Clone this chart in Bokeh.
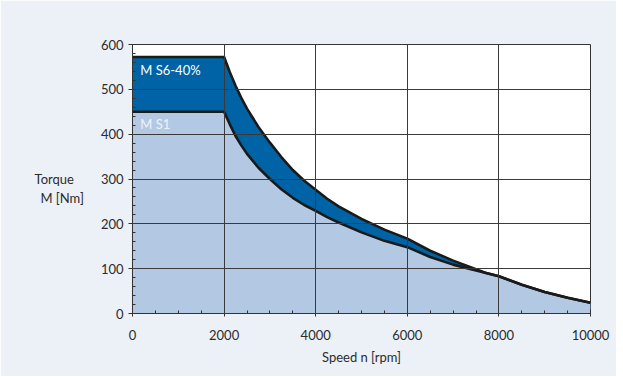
from bokeh.plotting import figure
from bokeh.models import Range1d, SingleIntervalTicker, Label
from bokeh.embed import file_html
from bokeh.resources import INLINE

# Data
speed = [0, 2000, 2125, 2250, 2375, 2500, 2750, 3000, 3250, 3500, 3750, 4000,
         4250, 4500, 5000, 5500, 6000, 6500, 7000, 7500, 7700, 8000, 8500,
         9000, 9500, 10000]
torque_s6 = [572, 572, 538, 508, 481, 457, 416, 381, 349, 320, 296, 276,
             256, 239, 211, 187, 167, 140, 118, 99, 91, 83, 64,
             48, 35, 24]
torque_s1 = [450, 450, 422, 396, 375, 356, 325, 300, 277, 258, 242, 229,
             215, 203, 181, 162, 148, 126, 109, 96, 91, 83, 64,
             48, 35, 24]
label_s6 = "M S6-40%"
label_s1 = "M S1"

FONT = "Lato"
TXT = "#2b2b2b"

p = figure(width=616, height=376, output_backend="svg", toolbar_location=None,
           x_range=Range1d(0, 10000), y_range=Range1d(0, 600),
           min_border_left=132, min_border_right=26, min_border_top=44,
           min_border_bottom=63)
p.border_fill_color = "#ECF1F8"
p.background_fill_color = "white"
p.outline_line_color = "#333333"
p.outline_line_width = 1

p.varea(x=speed, y1=0, y2=torque_s6, fill_color="#0063A6")
p.varea(x=speed, y1=0, y2=torque_s1, fill_color="#B3C8E2")
p.line(speed, torque_s6, line_color="#1a1a1a", line_width=2.6, line_join="round")
p.line(speed, torque_s1, line_color="#1a1a1a", line_width=2.6, line_join="round")

p.xaxis.ticker = SingleIntervalTicker(interval=2000, num_minor_ticks=4)
p.yaxis.ticker = SingleIntervalTicker(interval=100, num_minor_ticks=5)

for ax in (p.xaxis[0], p.yaxis[0]):
    ax.axis_line_color = "#333333"
    ax.major_tick_line_color = "#333333"
    ax.minor_tick_line_color = "#333333"
    ax.major_label_text_font = FONT
    ax.major_label_text_font_size = "13px"
    ax.major_label_text_color = TXT
    ax.axis_label_text_font = FONT
    ax.axis_label_text_font_size = "13px"
    ax.axis_label_text_font_style = "normal"
    ax.axis_label_text_color = TXT

p.xaxis.major_tick_in = 4
p.xaxis.major_tick_out = 3
p.xaxis.minor_tick_in = 3
p.xaxis.minor_tick_out = 0
p.xaxis.major_label_standoff = 13
p.xaxis.axis_label = "Speed n [rpm]"
p.xaxis.axis_label_standoff = 6

p.yaxis.major_tick_in = 4
p.yaxis.major_tick_out = 4
p.yaxis.minor_tick_in = 3
p.yaxis.minor_tick_out = 0
p.yaxis.major_label_standoff = 5
p.yaxis.axis_label = "\nTorque   \nM [Nm]"
p.yaxis.axis_label_orientation = "horizontal"
p.yaxis.axis_label_standoff = 14

p.grid.grid_line_color = "#3a3a3a"
p.grid.grid_line_width = 1
p.grid.level = "guide"

p.add_layout(Label(x=170, y=543, text=label_s6, text_color="white",
                   text_font=FONT, text_font_size="13px", text_baseline="middle"))
p.add_layout(Label(x=170, y=423, text=label_s1, text_color="#EEF3FA",
                   text_font=FONT, text_font_size="13px", text_baseline="middle"))

open("out.html", "w").write(file_html(p, INLINE))
